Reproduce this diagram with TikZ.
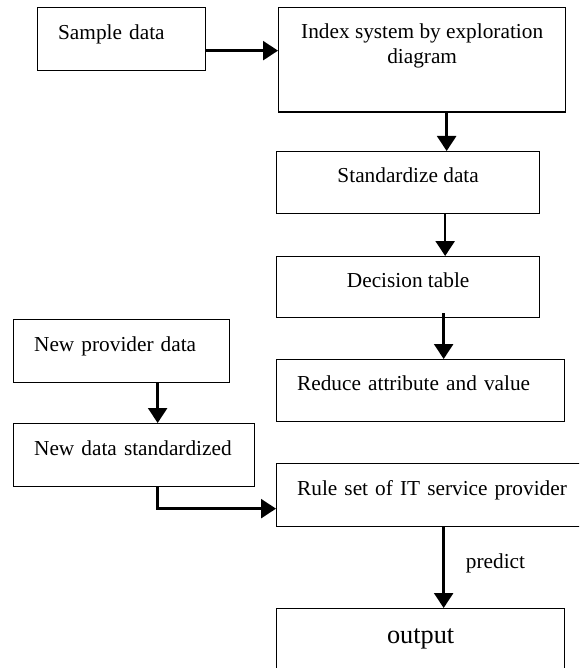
\documentclass[tikz,border=0pt]{standalone}
\usepackage{fontspec}
\setmainfont{Liberation Serif}
\usetikzlibrary{arrows.meta}

\begin{document}
\begin{tikzpicture}[x=1pt,y=-1pt,
  box/.style={draw,line width=1.3pt,rectangle,anchor=north west,
    font=\fontsize{21.3}{25}\selectfont,text height=10pt,text depth=10pt},
  cbox/.style={box,align=center},
  lbox/.style={box,align=left,inner xsep=20.5pt},
  arr/.style={line width=2.5pt,-{Triangle[length=15pt,width=19pt]}}]
\useasboundingbox (0,0) rectangle (579,668);
\clip (0,0) rectangle (579,668);

\node[lbox,text width=127pt,minimum height=63pt] (sample) at (37,7) {Sample data};
\node[cbox,minimum width=287pt,minimum height=104.5pt,text depth=2pt] (index) at (278,7)
  {Index system by exploration\\diagram};
\node[cbox,minimum width=263pt,minimum height=62pt] (std) at (276,151) {Standardize data};
\node[cbox,minimum width=263pt,minimum height=61pt] (dec) at (276,256) {Decision table};
\node[lbox,text width=247pt,minimum height=62pt] (reduce) at (276,359) {Reduce attribute and value};
\node[lbox,text width=175pt,minimum height=63pt] (newdat) at (13,319) {New provider data};
\node[lbox,text width=200pt,minimum height=63pt] (newstd) at (13,423) {New data standardized};
\node[lbox,text width=281pt,minimum height=63pt] (rules) at (276,463) {Rule set of IT service provider};
\node[cbox,minimum width=288pt,minimum height=70pt,font=\fontsize{26.3}{32}\selectfont] (out) at (276,608) {output};

\draw[arr] ([yshift=-11.5pt]sample.east) -- ([yshift=-11.5pt]sample.east -| index.west);
\draw[arr] ([xshift=24.5pt]index.south) -- ([xshift=24.5pt]index.south |- std.north);
\draw[arr] ([xshift=37pt]std.south) -- ([xshift=37pt]std.south |- dec.north);
\draw[arr] ([xshift=35.5pt,yshift=5pt]dec.south) -- ([xshift=35.5pt]dec.south |- reduce.north);
\draw[arr] ([xshift=36pt]newdat.south) -- ([xshift=36pt]newdat.south |- newstd.north);
\draw[arr] ([xshift=23.5pt]newstd.south) |- ([yshift=-13.5pt]rules.west);
\draw[arr] ([xshift=6pt]rules.south) -- ([xshift=6pt]rules.south |- out.north)
  node[pos=0.51,anchor=base west,inner sep=0pt,xshift=21pt,font=\fontsize{21.3}{26}\selectfont] (pred) {predict};
\end{tikzpicture}
\end{document}
